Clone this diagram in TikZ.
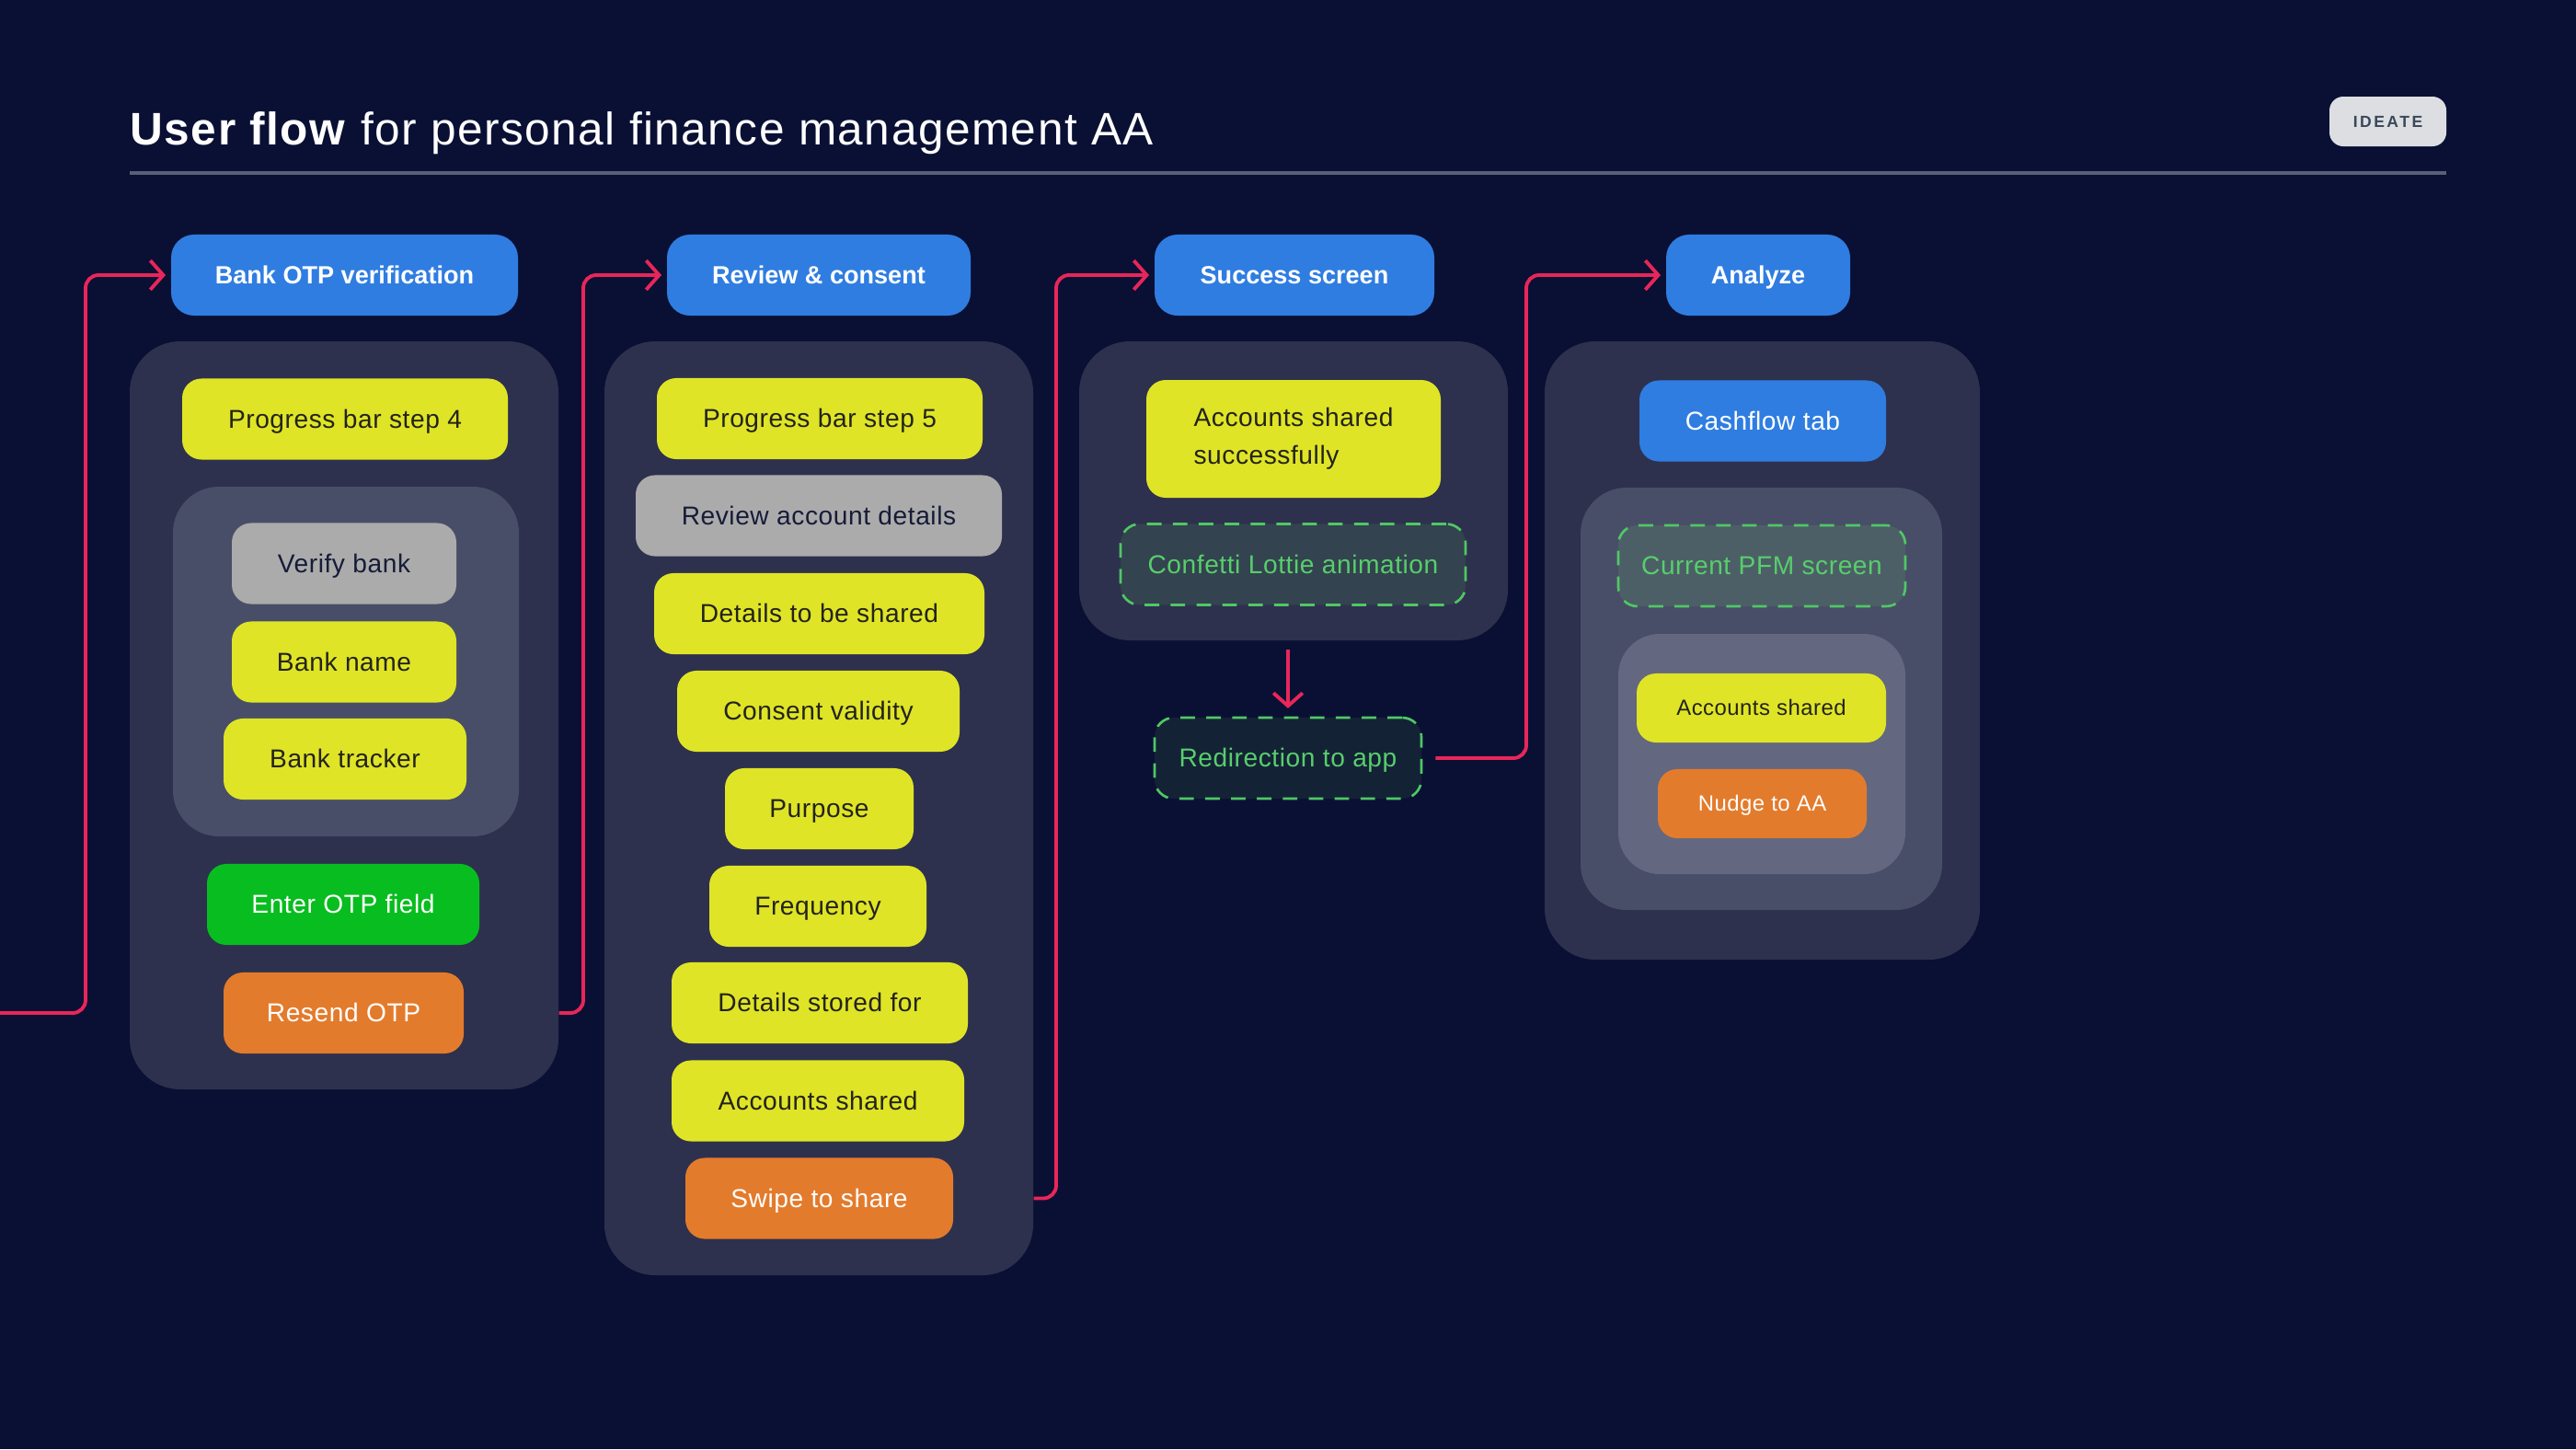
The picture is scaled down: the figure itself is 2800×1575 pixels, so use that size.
\documentclass[tikz,border=0pt]{standalone}
\usepackage{fontspec}
\setmainfont{Liberation Sans}
\newfontfamily\bodyfont[LetterSpace=2]{Liberation Sans}
\newfontfamily\badgefont[LetterSpace=14]{Liberation Sans}
\usetikzlibrary{arrows.meta}
\definecolor{cbg}{RGB}{10,16,52}
\definecolor{cpanel}{RGB}{45,49,78}
\definecolor{cinner}{RGB}{73,78,104}
\definecolor{cinnerb}{RGB}{99,104,128}
\definecolor{cblue}{RGB}{47,125,225}
\definecolor{cyellow}{RGB}{223,228,39}
\definecolor{cgray}{RGB}{171,171,171}
\definecolor{cgreen}{RGB}{8,189,31}
\definecolor{corange}{RGB}{227,123,44}
\definecolor{cred}{RGB}{232,38,90}
\definecolor{cdash}{RGB}{80,200,100}
\definecolor{cdashtext}{RGB}{88,206,108}
\definecolor{ctextdark}{RGB}{35,35,25}
\definecolor{cnavytext}{RGB}{22,28,56}
\definecolor{crule}{RGB}{90,95,120}
\definecolor{cbadge}{RGB}{220,222,226}
\definecolor{cbadgetext}{RGB}{58,72,90}
\definecolor{cconf}{RGB}{51,67,79}
\definecolor{credir}{RGB}{20,34,54}
\definecolor{cpfm}{RGB}{76,95,102}
\tikzset{
  bw/.style={minimum width={#1*0.01cm}},
  bh/.style={minimum height={#1*0.01cm}},
  box/.style={rounded corners=0.21cm, minimum height=0.88cm, inner sep=0pt,
    text height=6.6pt, text depth=1.2pt,
    font=\bodyfont\fontsize{8}{10}\selectfont},
  ybox/.style={box, fill=cyellow, text=ctextdark},
  gbox/.style={box, fill=cgray, text=cnavytext},
  grbox/.style={box, fill=cgreen, text=white},
  obox/.style={box, fill=corange, text=white},
  bbox/.style={box, fill=cblue, text=white},
  dbox/.style={box, draw=cdash, line width=0.75pt, dash pattern=on 4.5pt off 3.5pt, text=cdashtext},
  smallbox/.style={minimum height=0.75cm, text height=5.6pt, text depth=1pt,
    font=\bodyfont\fontsize{6.8}{8}\selectfont},
  hdr/.style={rounded corners=0.25cm, fill=cblue, text=white, minimum height=0.88cm, inner sep=0pt,
    text height=6.4pt, text depth=1.2pt,
    font=\bfseries\fontsize{7.7}{9}\selectfont},
  panel/.style={rounded corners=0.55cm, fill=cpanel, inner sep=0pt},
  inner/.style={rounded corners=0.5cm, fill=cinner, inner sep=0pt},
  innerb/.style={rounded corners=0.45cm, fill=cinnerb, inner sep=0pt},
  conn/.style={draw=cred, line width=1.1pt, rounded corners=0.14cm,
    -{Straight Barb[length=4pt,width=9pt,line width=1.1pt]}, shorten >=1.5pt},
}
\begin{document}
\begin{tikzpicture}[x=0.01cm,y=-0.01cm]
\fill[cbg] (0,0) rectangle (2800,1575);
\useasboundingbox (0,0) rectangle (2800,1575);

% title
\node[anchor=base west, inner sep=0pt, text=white, font=\fontsize{14.1}{16}\selectfont] (title) at (141,157)
  {\addfontfeatures{LetterSpace=3}\textbf{User flow} for personal finance management AA};
\coordinate (rulel) at (141,188);
\coordinate (ruler) at (2659,188);
\draw[crule, line width=0.9pt] (rulel) -- (ruler);
\node[fill=cbadge, text=cbadgetext, rounded corners=0.15cm, bw=127, bh=54, inner sep=0pt,
  text height=3.7pt, text depth=0pt,
  font=\badgefont\bfseries\fontsize{5}{6}\selectfont] (badge) at (2595.5,132) {IDEATE};

% column 1
\node[hdr, bw=377] (h1) at (374.5,299) {Bank OTP verification};
\node[panel, bw=466, bh=813] (p1) at (374,777.5) {};
\node[ybox, bw=354] (prog4) at (375,455.5) {Progress bar step 4};
\node[inner, bw=376, bh=380] (i1) at (376,719) {};
\node[gbox, bw=244] (verify) at (374,612.5) {Verify bank};
\node[ybox, bw=244] (bname) at (374,719.5) {Bank name};
\node[ybox, bw=264] (btrack) at (375,825) {Bank tracker};
\node[grbox, bw=296] (otp) at (373,983) {Enter OTP field};
\node[obox, bw=261] (resend) at (373.5,1101) {Resend OTP};

% column 2
\node[hdr, bw=330] (h2) at (890,299) {Review \& consent};
\node[panel, bw=466, bh=1015] (p2) at (890,878.5) {};
\node[ybox, bw=354] (prog5) at (891,455) {Progress bar step 5};
\node[gbox, bw=398] (review) at (890,560.5) {Review account details};
\node[ybox, bw=359] (dshared) at (890.5,667) {Details to be shared};
\node[ybox, bw=307] (consent) at (889.5,773) {Consent validity};
\node[ybox, bw=205] (purpose) at (890.5,879) {Purpose};
\node[ybox, bw=236] (freq) at (889,985) {Frequency};
\node[ybox, bw=322] (dstored) at (891,1090) {Details stored for};
\node[ybox, bw=318] (acc2) at (889,1196.5) {Accounts shared};
\node[obox, bw=291] (swipe) at (890.5,1302.5) {Swipe to share};

% column 3
\node[hdr, bw=304] (h3) at (1407,299) {Success screen};
\node[panel, bw=466, bh=325] (p3) at (1406,533.5) {};
\node[ybox, bw=320, bh=128, align=left, text height=, text depth=,
  font=\bodyfont\fontsize{8}{11.6}\selectfont] (accsucc) at (1406,477)
  {Accounts shared\\successfully};
\node[dbox, fill=cconf, bw=375] (confetti) at (1405.5,613.5) {Confetti Lottie animation};
\node[dbox, fill=credir, bw=290] (redirect) at (1400,824) {Redirection to app};

% column 4
\node[hdr, bw=200] (h4) at (1911,299) {Analyze};
\node[panel, bw=473, bh=672] (p4) at (1915.5,707) {};
\node[bbox, bw=268] (cash) at (1916,457.5) {Cashflow tab};
\node[inner, bw=393, bh=459] (i4) at (1914.5,759.5) {};
\node[dbox, fill=cpfm, bw=312] (pfm) at (1915,615) {Current PFM screen};
\node[innerb, bw=312, bh=261] (i4b) at (1915,819.5) {};
\node[ybox, smallbox, bw=271] (acc4) at (1914.5,769.5) {Accounts shared};
\node[obox, smallbox, bw=227] (nudge) at (1915.5,873.5) {Nudge to AA};

% connectors
\coordinate (start1) at (0,1101);
\draw[conn] (start1) -- (93,1101) -- (93,299) -- (h1.west);
\draw[conn] (p1.east |- resend) -- (634,1101) -- (634,299) -- (h2.west);
\draw[conn] (p2.east |- swipe) -- (1148,1302.5) -- (1148,299) -- (h3.west);
\draw[conn, shorten <=4pt] (redirect.east) -- (1659,824) -- (1659,299) -- (h4.west);
\draw[conn, shorten <=2.5pt, shorten >=2.5pt] (p3.south -| redirect) -- (redirect.north);
\end{tikzpicture}
\end{document}
